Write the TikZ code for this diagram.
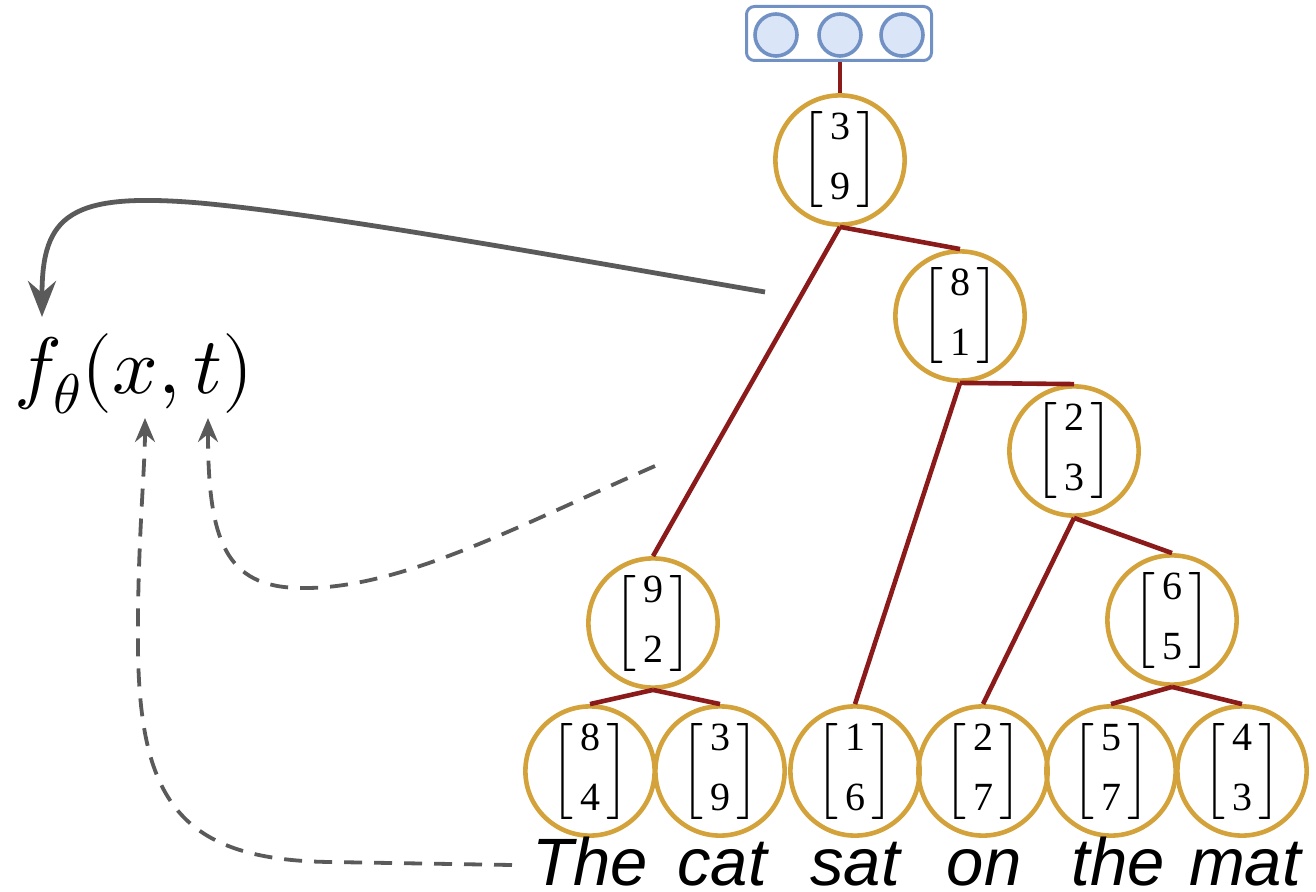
\documentclass[tikz,border=0pt]{standalone}
\usepackage{amsmath}
\usepackage{unicode-math}
\setmainfont{Liberation Serif}
\setmathfont{Latin Modern Math}
\newfontfamily\wordfont{Liberation Sans}
\usetikzlibrary{arrows.meta}
\definecolor{goldc}{HTML}{D4A23A}
\definecolor{edgered}{HTML}{8B1A1A}
\definecolor{boxblue}{HTML}{7191C4}
\definecolor{fillblue}{HTML}{DAE5F7}
\definecolor{arrowgray}{HTML}{5A5A5A}
\newcommand{\vect}[2]{$\left[\begin{array}{@{\hspace{3pt}}c@{\hspace{3pt}}}\text{#1}\\[7pt]\text{#2}\end{array}\right]$}
\begin{document}
\begin{tikzpicture}[x=0.5pt,y=-0.5pt,
  vecnode/.style={circle,draw=goldc,line width=2.3pt,minimum size=55.5pt,inner sep=0pt,
    font=\fontsize{20}{23}\selectfont},
  treeedge/.style={draw=edgered,line width=2.3pt},
  wordnode/.style={anchor=base,inner xsep=3pt,inner ysep=1pt,font=\fontsize{33.5}{36}\selectfont\wordfont\itshape},
  outbox/.style={draw=boxblue,line width=1.5pt,rounded corners=4pt,minimum width=92.5pt,minimum height=27pt,inner sep=0pt},
  unit/.style={circle,draw=boxblue,fill=fillblue,line width=1.8pt,minimum size=21pt,inner sep=0pt},
  solidarrow/.style={draw=arrowgray,line width=2.4pt,-{Stealth[length=18pt,width=14pt,inset=6pt]}},
  dasharrow/.style={draw=arrowgray,line width=1.9pt,dash pattern=on 9pt off 6pt,-{Stealth[length=12pt,width=10pt,inset=4pt]}}
]
\useasboundingbox (0,0) rectangle (1316,892);

% output layer
\node[outbox] (box) at (839,33.5) {};
\node[unit] (u1) at (776,35) {};
\node[unit] (u2) at (840,35) {};
\node[unit] (u3) at (902,35) {};

% tree nodes
\node[vecnode] (root) at (840,160) {\vect{3}{9}};
\node[vecnode] (n81) at (960,316) {\vect{8}{1}};
\node[vecnode] (n23) at (1074,451) {\vect{2}{3}};
\node[vecnode] (n65) at (1172,620) {\vect{6}{5}};
\node[vecnode] (n92) at (653,623) {\vect{9}{2}};
\node[vecnode] (l84) at (590,771) {\vect{8}{4}};
\node[vecnode] (l39) at (720,771) {\vect{3}{9}};
\node[vecnode] (l16) at (855,771) {\vect{1}{6}};
\node[vecnode] (l27) at (983,771) {\vect{2}{7}};
\node[vecnode] (l57) at (1111,771) {\vect{5}{7}};
\node[vecnode] (l43) at (1242,771) {\vect{4}{3}};

% words
\node[wordnode] (wThe) at (590,885) {The};
\node[wordnode] (wcat) at (722,885) {cat};
\node[wordnode] (wsat) at (855,885) {sat};
\node[wordnode] (won) at (984,885) {on};
\node[wordnode] (wthe) at (1118,885) {the};
\node[wordnode] (wmat) at (1245,885) {mat};

% function label
\node[anchor=base,inner sep=0pt,font=\fontsize{40}{44}\selectfont] (fx) at (134,394) {$f_\theta(x,t)$};

% edges
\draw[treeedge] (box.south -| root.north) -- (root.north);
\draw[treeedge] (root.south) -- (n92.north);
\draw[treeedge] (root.south) -- (n81.north);
\draw[treeedge] (n81.south) -- (l16.north);
\draw[treeedge] (n81.south) -- (n23.north);
\draw[treeedge] (n23.south) -- (l27.north);
\draw[treeedge] (n23.south) -- (n65.north);
\draw[treeedge] (n92.south) -- (l84.north);
\draw[treeedge] (n92.south) -- (l39.north);
\draw[treeedge] (n65.south) -- (l57.north);
\draw[treeedge] (n65.south) -- (l43.north);

% arrows
\coordinate (sStart) at (765,292);
\coordinate (fTip) at (42,317);
\coordinate (tStart) at (655,466);
\coordinate (tTip) at (208,418);
\coordinate (xStart) at (512,865);
\coordinate (xTip) at (145,418);

\draw[solidarrow] (sStart) .. controls (550,255) and (330,215) .. (200,203)
  .. controls (70,192) and (42,215) .. (fTip);
\draw[dasharrow] (tStart) .. controls (520,525) and (400,590) .. (300,588)
  .. controls (225,587) and (208,540) .. (tTip);
\draw[dasharrow] (xStart) -- (330,862) .. controls (180,860) and (140,800) .. (138,650)
  .. controls (137,550) and (145,470) .. (xTip);
\end{tikzpicture}
\end{document}
